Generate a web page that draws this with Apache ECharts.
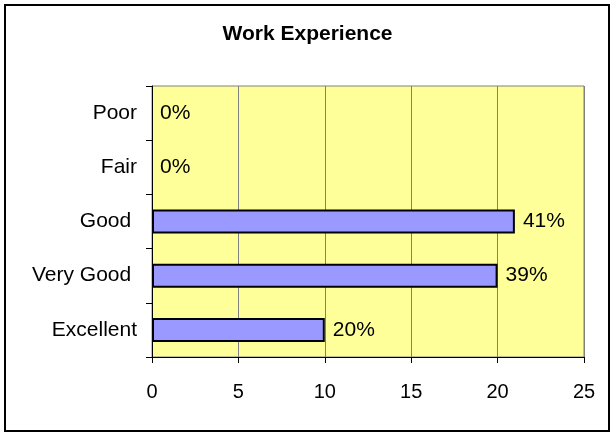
<!DOCTYPE html>
<html>
<head>
<meta charset="utf-8">
<script src="https://cdn.jsdelivr.net/npm/echarts@6/dist/echarts.min.js"></script>
<style>
  html, body { margin: 0; padding: 0; background: #fff; }
  #chart { width: 615px; height: 433px; }
</style>
</head>
<body>
<div id="chart"></div>
<script>
// categories from bottom to top (trailing spaces as in the original labels)
const categories = ['Excellent', 'Very Good ', 'Good ', 'Fair', 'Poor']
const counts = [10, 20, 21, 0, 0]
const percentLabels = ['20%', '39%', '41%', '0%', '0%']
const xTicks = [0, 5, 10, 15, 20, 25]

const chart = echarts.init(document.getElementById('chart'))
const font = 'Liberation Sans, Arial, sans-serif'

const option = {
  animation: false,
  textStyle: { fontFamily: font },
  title: {
    text: 'Work Experience',
    left: 'center',
    top: 19,
    textStyle: { fontFamily: font, fontSize: 21, fontWeight: 'bold', color: '#000' }
  },
  graphic: [
    {
      type: 'rect',
      shape: { x: 5, y: 5, width: 604, height: 426 },
      style: { fill: 'none', stroke: '#000', lineWidth: 2 },
      z: 100
    }
  ],
  grid: {
    left: 152,
    right: 31,
    top: 86,
    bottom: 76,
    show: true,
    backgroundColor: '#FFFF99',
    borderColor: '#808080',
    borderWidth: 1
  },
  xAxis: {
    type: 'value',
    min: xTicks[0],
    max: xTicks[xTicks.length - 1],
    interval: 5,
    axisLine: { show: true, lineStyle: { color: '#000', width: 1 } },
    axisTick: { show: true, length: 6, lineStyle: { color: '#000' } },
    axisLabel: { color: '#000', fontSize: 20, margin: 25 },
    splitLine: { show: true, lineStyle: { color: '#808080', width: 1 } }
  },
  yAxis: {
    type: 'category',
    data: categories,
    axisLine: { show: true, lineStyle: { color: '#000', width: 1 } },
    axisTick: { show: true, length: 6, lineStyle: { color: '#000' } },
    axisLabel: { color: '#000', fontSize: 21, margin: 15 },
    splitLine: { show: false }
  },
  series: [
    {
      type: 'bar',
      data: counts.map(v => ({
        value: v,
        itemStyle: v === 0 ? { borderWidth: 0 } : {}
      })),
      barWidth: 24,
      itemStyle: { color: '#9999FF', borderColor: '#000', borderWidth: 2 },
      label: {
        show: true,
        position: 'right',
        distance: 8,
        color: '#000',
        fontSize: 21,
        formatter: p => percentLabels[p.dataIndex]
      }
    }
  ]
}

chart.setOption(option)
</script>
</body>
</html>
